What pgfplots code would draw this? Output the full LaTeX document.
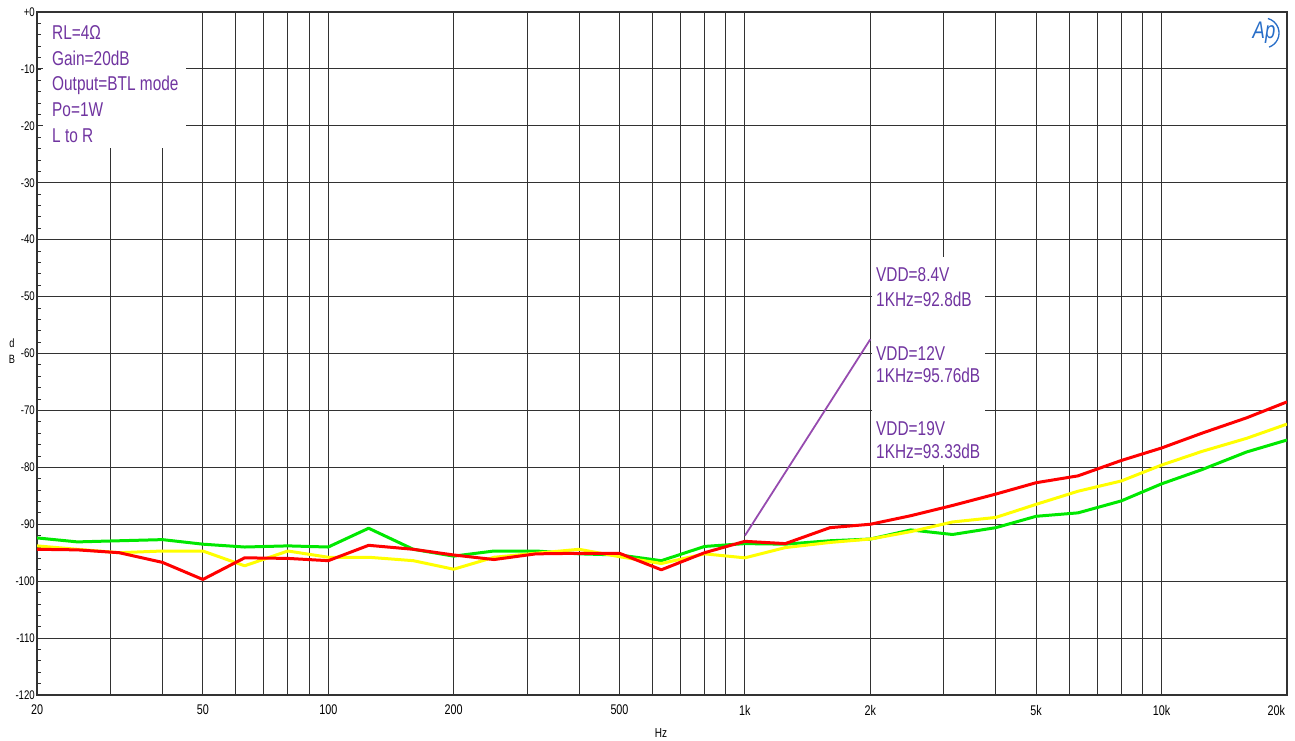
\documentclass[border=0pt]{standalone}
\usepackage{pgfplots}
\pgfplotsset{compat=1.18}
\usepackage{fontspec}
\setmainfont{Liberation Sans}[FakeStretch=0.77]
\definecolor{cgreen}{RGB}{0,232,0}
\definecolor{cyellow}{RGB}{255,255,0}
\definecolor{cred}{RGB}{255,0,0}
\definecolor{ctext}{RGB}{112,52,160}
\definecolor{cline}{RGB}{150,75,175}
\definecolor{cgrid}{RGB}{50,50,50}
\definecolor{clogo}{RGB}{40,110,200}
\pgfplotstableread{
f g
20 -92.4
25 -93.1
31.5 -92.9
40 -92.7
50 -93.5
63 -94.0
80 -93.8
100 -94.0
125 -90.7
160 -94.4
200 -95.6
250 -94.7
315 -94.7
400 -95.2
500 -95.4
630 -96.4
800 -93.9
1000 -93.4
1250 -93.5
1600 -92.9
2000 -92.6
2500 -91.0
3150 -91.8
4000 -90.6
5000 -88.6
6300 -88.0
8000 -85.9
10000 -82.9
12500 -80.4
16000 -77.3
20000 -75.2
}\greendata
\pgfplotstableread{
f g
20 -93.8
25 -94.4
31.5 -95.0
40 -94.7
50 -94.7
63 -97.3
80 -94.7
100 -95.8
125 -95.8
160 -96.4
200 -97.9
250 -95.8
315 -95.1
400 -94.4
500 -95.7
630 -96.9
800 -95.2
1000 -95.9
1250 -94.1
1600 -93.2
2000 -92.6
2500 -91.3
3150 -89.6
4000 -88.8
5000 -86.5
6300 -84.2
8000 -82.4
10000 -79.6
12500 -77.2
16000 -74.9
20000 -72.4
}\yellowdata
\pgfplotstableread{
f g
20 -94.4
25 -94.5
31.5 -95.0
40 -96.7
50 -99.7
63 -95.9
80 -96.0
100 -96.4
125 -93.7
160 -94.4
200 -95.4
250 -96.2
315 -95.2
400 -95.1
500 -95.1
630 -98.0
800 -95.0
1000 -93.0
1250 -93.4
1600 -90.6
2000 -90.0
2500 -88.5
3150 -86.7
4000 -84.7
5000 -82.7
6300 -81.5
8000 -78.8
10000 -76.6
12500 -74.0
16000 -71.3
20000 -68.5
}\reddata
\begin{document}
\begin{tikzpicture}[x=1pt,y=1pt]
\useasboundingbox (0,0) rectangle (1295,740);
\begin{axis}[
  at={(37pt,45pt)}, anchor=south west,
  scale only axis, width=1250pt, height=683pt,
  xmode=log, xmin=20, xmax=20000, ymin=-120, ymax=0,
  log basis x=10,
  xtick={20,50,100,200,500,1000,2000,5000,10000,20000},
  xticklabels={20,50,100,200,500,1k,2k,5k,10k,\makebox[0pt][r]{20k\hspace{2pt}}},
  minor xtick={30,40,60,70,80,90,300,400,600,700,800,900,3000,4000,6000,7000,8000,9000},
  ytick={-120,-110,-100,-90,-80,-70,-60,-50,-40,-30,-20,-10,0},
  yticklabels={-120,-110,-100,-90,-80,-70,-60,-50,-40,-30,-20,-10,+0},
  minor y tick num=4,
  xmajorgrids, xminorgrids, ymajorgrids,
  major grid style={cgrid, line width=1pt},
  minor grid style={cgrid, line width=1pt},
  x tick style={draw=none},
  y tick style={cgrid, line width=0.8pt},
  ytick pos=left, tick align=inside,
  major tick length=4pt, minor tick length=4pt,
  axis line style={cgrid, line width=1.1pt},
  xticklabel style={font=\fontsize{14}{14}\selectfont, anchor=north, inner sep=0pt, yshift=-10pt},
  yticklabel style={font=\fontsize{12.5}{12.5}\selectfont, anchor=east, inner sep=0pt, xshift=-2pt},
  clip=true,
]
\addplot[cgreen, line width=3pt, line join=round] table[x=f, y=g] {\greendata};
\addplot[cyellow, line width=3pt, line join=round] table[x=f, y=g] {\yellowdata};
\addplot[cred, line width=3pt, line join=round] table[x=f, y=g] {\reddata};
\addplot[cline, line width=1.8pt] coordinates {(1000,-92.0) (2000,-57.5)};
\end{axis}
\fill[white] (43,592) rectangle (186,727);
\fill[white] (871.5,275) rectangle (985,483);
\begin{scope}[every node/.style={anchor=base west, inner sep=0pt, text=ctext, font=\fontsize{20}{20}\selectfont}]
\node at (52,700) {RL=4Ω};
\node at (52,674.5) {Gain=20dB};
\node at (52,649) {Output=BTL mode};
\node at (52,623.5) {Po=1W};
\node at (52,597.5) {L to R};
\node at (876,458) {VDD=8.4V};
\node at (876,433) {1KHz=92.8dB};
\node at (876,380) {VDD=12V};
\node at (876,358) {1KHz=95.76dB};
\node at (876,305) {VDD=19V};
\node at (876,282) {1KHz=93.33dB};
\end{scope}
\node[font=\fontsize{12}{12}\selectfont, inner sep=0pt] at (12,397) {d};
\node[font=\fontsize{12}{12}\selectfont, inner sep=0pt] at (12,381) {B};
\node[font=\fontsize{13}{13}\selectfont, inner sep=0pt] at (661,7) {Hz};
\node[text=clogo, font=\fontsize{24}{24}\selectfont\itshape, inner sep=0pt] at (1264,707) {Ap};
\draw[clogo, line width=1.3pt] (1264,707) ++(-70:15) arc(-70:75:15);
\end{tikzpicture}
\end{document}
